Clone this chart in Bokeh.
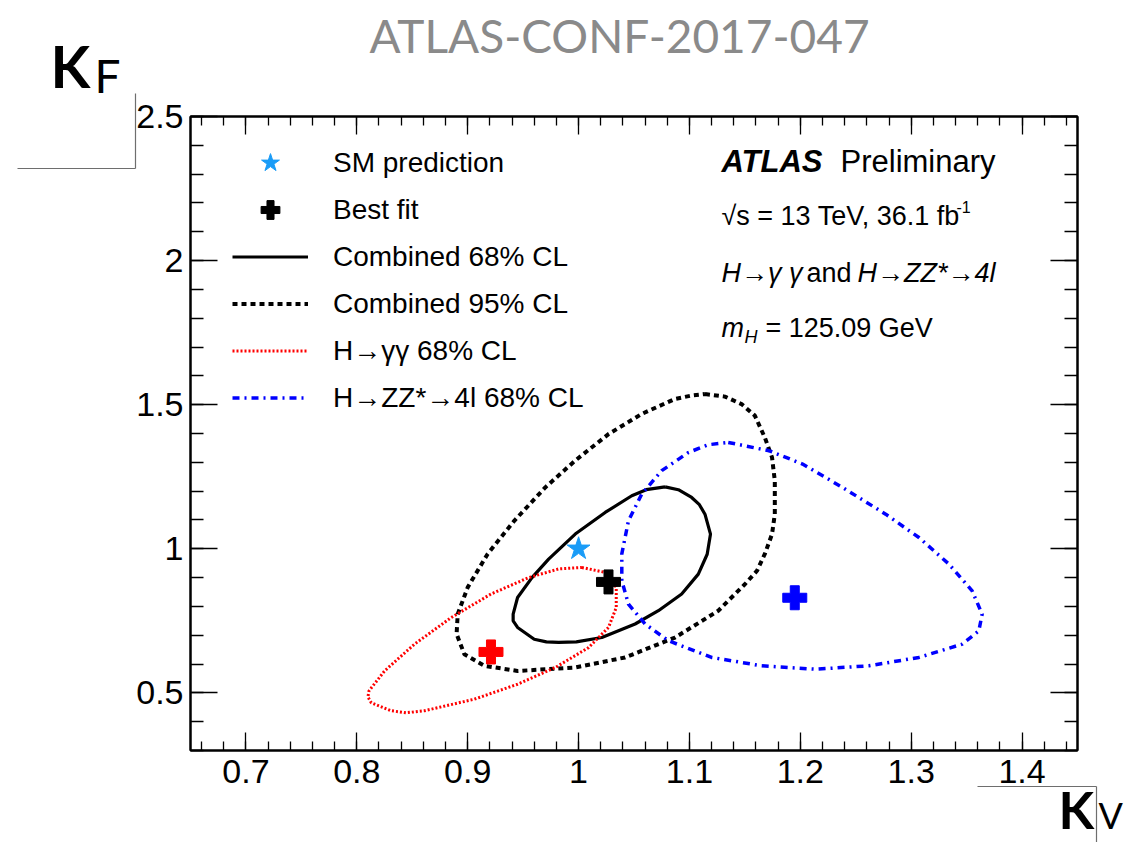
import numpy as np
from bokeh.plotting import figure
from bokeh.models import (FixedTicker, LinearAxis, Label, Legend, LegendItem, Range1d)
from bokeh.embed import file_html
from bokeh.resources import INLINE

# ---------------- data ----------------
x_ticks = [0.7, 0.8, 0.9, 1.0, 1.1, 1.2, 1.3, 1.4]
x_tick_labels = ["0.7", "0.8", "0.9", "1", "1.1", "1.2", "1.3", "1.4"]
y_ticks = [0.5, 1.0, 1.5, 2.0, 2.5]
y_tick_labels = ["0.5", "1", "1.5", "2", "2.5"]

sm_kv = [1.0]
sm_kf = [1.0]
comb_best_kv = [1.027]
comb_best_kf = [0.885]
gg_best_kv = [0.921]
gg_best_kf = [0.642]
zz_best_kv = [1.195]
zz_best_kf = [0.830]

comb68_kv = [1.078, 1.090, 1.102, 1.109, 1.114, 1.119, 1.116, 1.108, 1.093, 1.072, 1.051, 1.021, 0.998,
             0.982, 0.971, 0.960, 0.945, 0.941, 0.941, 0.945, 0.958, 0.973, 0.997, 1.024, 1.048, 1.061]
comb68_kf = [1.215, 1.205, 1.178, 1.153, 1.120, 1.051, 0.981, 0.912, 0.843, 0.785, 0.739, 0.692, 0.677,
             0.675, 0.677, 0.686, 0.727, 0.750, 0.773, 0.831, 0.900, 0.964, 1.051, 1.126, 1.184, 1.205]

comb95_kv = [1.114, 1.132, 1.147, 1.159, 1.168, 1.1745, 1.177, 1.177, 1.1745, 1.168, 1.161, 1.150, 1.126,
             1.087, 1.042, 0.997, 0.945, 0.915, 0.897, 0.890, 0.891, 0.900, 0.918, 0.942, 0.970, 0.997,
             1.027, 1.057, 1.087, 1.101]
comb95_kf = [1.537, 1.528, 1.502, 1.462, 1.386, 1.317, 1.236, 1.120, 1.051, 0.982, 0.924, 0.877, 0.785,
             0.692, 0.623, 0.588, 0.576, 0.594, 0.634, 0.704, 0.773, 0.866, 0.982, 1.097, 1.213, 1.306,
             1.398, 1.468, 1.520, 1.531]

gg68_kv = [1.003, 1.024, 1.034, 1.034, 1.027, 1.009, 0.979, 0.945, 0.906, 0.861, 0.8445, 0.831,
           0.813, 0.810, 0.811, 0.825, 0.852, 0.885, 0.921, 0.955, 0.982]
gg68_kf = [0.935, 0.918, 0.866, 0.796, 0.727, 0.657, 0.588, 0.530, 0.478, 0.438, 0.431, 0.438,
           0.466, 0.486, 0.507, 0.576, 0.669, 0.761, 0.843, 0.900, 0.930]

zz68_kv = [1.135, 1.172, 1.202, 1.238, 1.277, 1.307, 1.334, 1.355, 1.364, 1.361, 1.346, 1.307, 1.262,
           1.214, 1.165, 1.120, 1.081, 1.060, 1.045, 1.039, 1.039, 1.045, 1.057, 1.075, 1.099, 1.117]
zz68_kf = [1.369, 1.340, 1.294, 1.213, 1.120, 1.039, 0.947, 0.854, 0.773, 0.715, 0.669, 0.623, 0.594,
           0.582, 0.594, 0.623, 0.681, 0.739, 0.808, 0.889, 0.982, 1.097, 1.190, 1.271, 1.334, 1.361]


def closed(a):
    return list(a) + [a[0]]


# ---------------- main figure ----------------
W, H = 1138, 842
FL, FB = 190, 750  # frame left / bottom in canvas pixels
ABS = {"position": "absolute", "left": "0px", "top": "0px"}
BSHIFT = 0.39  # label baseline correction (fraction of font size)

p = figure(width=W, height=H, x_range=Range1d(0.65, 1.45), y_range=Range1d(0.3, 2.5),
           output_backend="svg", toolbar_location=None, title_location=None,
           min_border_left=FL, min_border_right=61, min_border_top=116, min_border_bottom=H - FB)
p.styles = ABS
p.grid.visible = False
p.outline_line_color = "black"
p.outline_line_width = 2
p.background_fill_color = "white"
p.border_fill_color = "white"

x_minor = [float(v) for v in np.round(np.arange(0.66, 1.45, 0.02), 2)]
y_minor = [float(v) for v in np.round(np.arange(0.3, 2.51, 0.1), 2)]
xt = FixedTicker(ticks=x_ticks, minor_ticks=x_minor)
yt = FixedTicker(ticks=y_ticks, minor_ticks=y_minor)


def style_axis(ax, ticker, labels, ticks, major_len, minor_len, show_labels):
    ax.ticker = ticker
    ax.axis_line_width = 2
    ax.axis_line_color = "black"
    ax.major_tick_in = major_len
    ax.major_tick_out = 0
    ax.minor_tick_in = minor_len
    ax.minor_tick_out = 0
    ax.major_tick_line_width = 1.3
    ax.minor_tick_line_width = 1.3
    ax.major_label_text_font = "Liberation Sans"
    ax.major_label_text_color = "black"
    ax.major_label_text_font_size = "34px"
    if show_labels:
        ax.major_label_overrides = {float(t): l for t, l in zip(ticks, labels)}
    else:
        ax.major_label_overrides = {float(t): "" for t in ticks}


xa = p.xaxis[0]
ya = p.yaxis[0]
style_axis(xa, xt, x_tick_labels, x_ticks, 18, 9, True)
style_axis(ya, yt, y_tick_labels, y_ticks, 27, 13, True)
xa.major_label_standoff = 9
ya.major_label_standoff = 7

top = LinearAxis()
style_axis(top, xt, x_tick_labels, x_ticks, 18, 9, False)
p.add_layout(top, "above")
right = LinearAxis()
style_axis(right, yt, y_tick_labels, y_ticks, 27, 13, False)
p.add_layout(right, "right")

# ---------------- contours ----------------
r95 = p.line(closed(comb95_kv), closed(comb95_kf), line_color="black", line_width=4, line_dash="5 4")
r68 = p.line(closed(comb68_kv), closed(comb68_kf), line_color="black", line_width=3.2)
rgg = p.line(closed(gg68_kv), closed(gg68_kf), line_color="#ff0000", line_width=3, line_dash="2 2")
rzz = p.line(closed(zz68_kv), closed(zz68_kf), line_color="#0000ff", line_width=3.5, line_dash="7 5 2 5")

# ---------------- points ----------------
rgb = p.scatter(gg_best_kv, gg_best_kf, marker="plus", size=24, color="#ff0000")
rzb = p.scatter(zz_best_kv, zz_best_kf, marker="plus", size=24, color="#0000ff")
rsm = p.scatter(sm_kv, sm_kf, marker="star", size=24, color="#1a9cf7")
rcb = p.scatter(comb_best_kv, comb_best_kf, marker="plus", size=24, color="black")

# ---------------- legend ----------------
legend = Legend(items=[
    LegendItem(label="SM prediction", renderers=[rsm]),
    LegendItem(label="Best fit", renderers=[rcb]),
    LegendItem(label="Combined 68% CL", renderers=[r68]),
    LegendItem(label="Combined 95% CL", renderers=[r95]),
    LegendItem(label="H\u2192\u03b3\u03b3 68% CL", renderers=[rgg]),
    LegendItem(label="H\u2192ZZ*\u21924l 68% CL", renderers=[rzz]),
], location=(232 - FL, FB - 421), orientation="vertical",
    glyph_width=76, glyph_height=47, label_height=47, spacing=0, padding=0, margin=0,
    label_standoff=25, label_text_font="Liberation Sans", label_text_font_size="28px",
    label_text_color="black", border_line_alpha=0, background_fill_alpha=0)
p.add_layout(legend, "center")


# in-frame texts (screen units relative to the frame); y = wanted baseline in page pixels
def lab(text, x, y, size, font="Liberation Sans", style="normal", color="black", align="left"):
    yb = y - BSHIFT * size
    p.add_layout(Label(x=x - FL, y=FB - yb, x_units="screen", y_units="screen", text=text,
                       text_font=font, text_font_size=f"{size}px", text_font_style=style,
                       text_color=color, text_align=align, text_baseline="alphabetic"))


lab("ATLAS", 721, 173, 31, style="bold italic")
lab("Preliminary", 840, 173, 31)
lab("\u221as = 13 TeV, 36.1 fb", 721, 226, 27)
lab("-1", 956, 213, 16)
lab("H\u2192\u03b3 \u03b3", 721, 283, 27, style="italic")
lab("and", 806, 283, 27)
lab("H\u2192ZZ*\u21924l", 857, 283, 27, style="italic")
lab("m", 721, 338, 27, style="italic")
lab("H", 744, 344, 18, style="italic")
lab("= 125.09 GeV", 765, 338, 27)

# ---------------- transparent overlay for texts outside the frame ----------------
q = figure(width=W, height=H, x_range=Range1d(0, W), y_range=Range1d(H, 0),
           output_backend="svg", toolbar_location=None, title_location=None,
           x_axis_type=None, y_axis_type=None, min_border=0)
q.styles = ABS
q.outline_line_color = None
q.background_fill_alpha = 0
q.border_fill_alpha = 0


def olab(text, x, y, size, font="Lato", color="black", align="left", style="normal"):
    q.add_layout(Label(x=x, y=y - BSHIFT * size, text=text, text_font=font, text_font_size=f"{size}px",
                       text_color=color, text_align=align, text_baseline="alphabetic",
                       text_font_style=style))


olab("ATLAS-CONF-2017-047", 619, 53, 46, color="#8a8a8a", align="center")
olab("K", 50, 88, 58, style="bold")
olab("F", 94, 93, 46)
olab("K", 1058, 829, 52, style="bold")
olab("V", 1098, 829, 36)

q.segment(x0=[17, 135, 977, 1096], y0=[168, 168, 786, 786],
          x1=[135, 135, 1096, 1096], y1=[168, 93, 786, 842],
          line_color="#6e6e6e", line_width=1.2)

open("out.html", "w").write(file_html((p, q), INLINE))
